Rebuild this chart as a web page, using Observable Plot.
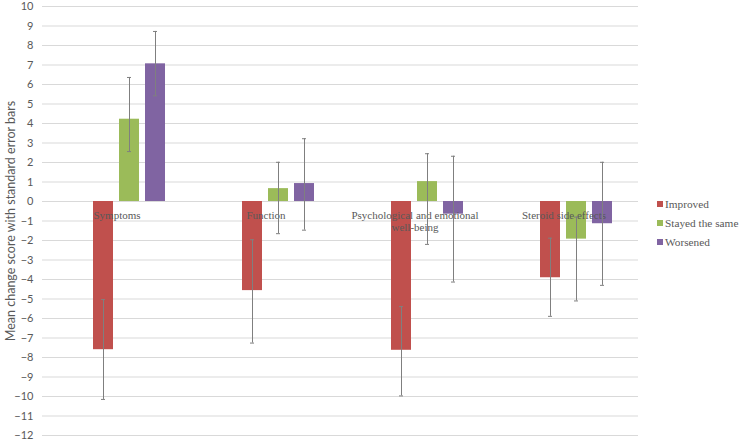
<!DOCTYPE html>
<html>
<head>
<meta charset="utf-8">
<script src="https://cdn.jsdelivr.net/npm/d3@7"></script>
<script src="https://cdn.jsdelivr.net/npm/@observablehq/plot@0.6"></script>
<style>
  body { margin: 0; background: #fff; }
  #wrap { position: relative; width: 740px; height: 441px; }
  #legend { position: absolute; left: 657px; top: 194px; color: #595959; }
  #legend .item { display: flex; align-items: center; height: 19px; white-space: nowrap; }
  #legend .sw { width: 6px; height: 6px; margin-right: 2px; display: inline-block; }
</style>
</head>
<body>
<div id="wrap"></div>
<script>
const categories = ["Symptoms", "Function", "Psychological and emotional\nwell-being", "Steroid side effects"];
const series = ["Improved", "Stayed the same", "Worsened"];
const colors = ["#C0504D", "#9BBB59", "#8064A2"];

const improved = [-7.6, -4.57, -7.63, -3.91];
const stayed = [4.22, 0.66, 1.02, -1.93];
const worsened = [7.06, 0.92, -0.65, -1.14];

const improvedLow = [-10.15, -7.26, -9.97, -5.89];
const improvedHigh = [-5.03, -1.96, -5.39, -1.88];
const stayedLow = [2.56, -1.65, -2.2, -5.1];
const stayedHigh = [6.36, 2.01, 2.45, -0.8];
const worsenedLow = [5.42, -1.47, -4.13, -4.3];
const worsenedHigh = [8.72, 3.22, 2.32, 2.01];

const yTicks = [-12, -11, -10, -9, -8, -7, -6, -5, -4, -3, -2, -1, 0, 1, 2, 3, 4, 5, 6, 7, 8, 9, 10];
const yLabel = "Mean change score with standard error bars";

const values = [improved, stayed, worsened];
const lows = [improvedLow, stayedLow, worsenedLow];
const highs = [improvedHigh, stayedHigh, worsenedHigh];
const data = [];
categories.forEach((c, i) => {
  series.forEach((s, j) => {
    data.push({category: c, series: s, value: values[j][i], low: lows[j][i], high: highs[j][i]});
  });
});

const chart = Plot.plot({
  width: 740,
  height: 441,
  marginLeft: 40,
  marginRight: 101,
  marginTop: 6,
  marginBottom: 6,
  style: {fontFamily: "Lato, sans-serif", fontSize: "11px", color: "#595959", background: "#fff"},
  fx: {domain: categories, padding: 0, axis: null},
  x: {domain: series, paddingInner: 0.222, paddingOuter: 1.384, align: 0.66, axis: null},
  y: {domain: [-12, 10], ticks: yTicks, label: null},
  color: {domain: series, range: colors},
  marks: [
    Plot.ruleY(yTicks, {stroke: "#d9d9d9", strokeWidth: 1}),
    Plot.axisY({ticks: yTicks, tickSize: 0, tickPadding: 9, fontSize: 11, fill: "#595959", label: null}),
    Plot.axisY({ticks: [], tickSize: 0, label: yLabel, labelAnchor: "center", labelArrow: "none", labelOffset: 36, fontSize: 12.5, fill: "#595959"}),
    Plot.barY(data, {fx: "category", x: "series", y: "value", fill: "series"}),
    Plot.text(categories, {fx: d => d, y: () => 0, text: d => d, lineAnchor: "top", dy: 9, fontFamily: "Liberation Serif, serif", fontSize: 11, fill: "#595959", lineHeight: 1.1}),
    Plot.ruleX(data, {fx: "category", x: "series", y1: "low", y2: "high", stroke: "#7f7f7f", strokeWidth: 1}),
    Plot.tickY(data, {fx: "category", x: "series", y: "low", stroke: "#7f7f7f", insetLeft: 8, insetRight: 8}),
    Plot.tickY(data, {fx: "category", x: "series", y: "high", stroke: "#7f7f7f", insetLeft: 8, insetRight: 8})
  ]
});

const wrap = document.getElementById("wrap");
wrap.appendChild(chart);

const legend = document.createElement("div");
legend.id = "legend";
series.forEach((s, j) => {
  const item = document.createElement("div");
  item.className = "item";
  item.style.fontFamily = "'Liberation Serif', serif";
  item.style.fontSize = "11.3px";
  const sw = document.createElement("span");
  sw.className = "sw";
  sw.style.background = colors[j];
  item.appendChild(sw);
  const label = document.createElement("span");
  label.textContent = s;
  item.appendChild(label);
  legend.appendChild(item);
});
wrap.appendChild(legend);
</script>
</body>
</html>
